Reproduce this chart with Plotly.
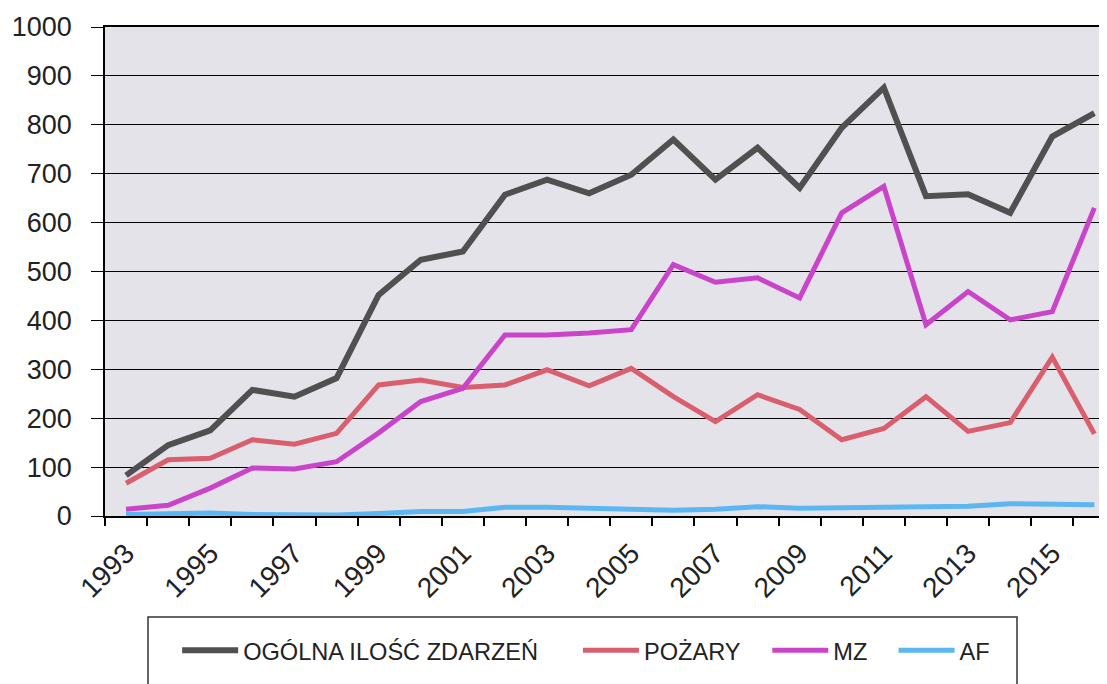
import plotly.graph_objects as go

years = list(range(1993, 2017))
ogolna = [83, 145, 175, 258, 244, 282, 452, 524, 541, 657, 688, 660, 698, 770, 688, 753, 671, 794, 876, 654, 658, 620, 776, 824]
pozary = [67, 115, 118, 156, 147, 169, 268, 278, 263, 268, 299, 266, 302, 244, 193, 248, 218, 156, 179, 244, 173, 191, 325, 168]
mz = [14, 22, 57, 98, 96, 111, 170, 234, 261, 370, 370, 374, 381, 514, 478, 487, 446, 620, 674, 391, 459, 401, 418, 630]
af = [3, 5, 6, 3, 2, 2, 5, 9, 9, 18, 18, 16, 14, 12, 14, 19, 16, 17, 17, 17, 20, 25, 25, 23]
series_names = ["OGÓLNA ILOŚĆ ZDARZEŃ", "POŻARY", "MZ", "AF"]
x_tick_years = list(range(1993, 2016, 2))
x_tick_labels = [str(y) for y in x_tick_years]
y_tick_values = list(range(0, 1001, 100))

colors = ["#505050", "#d95f6e", "#c944c9", "#5cb6f2"]
widths = [6, 5, 5, 5]
legend_ids = ["legend", "legend2", "legend3", "legend4"]
legend_x = [0.072, 0.472, 0.661, 0.787]

FONT = "Liberation Sans, Arial, sans-serif"

fig = go.Figure()
for name, vals, col, w, lg in zip(series_names, [ogolna, pozary, mz, af], colors, widths, legend_ids):
    fig.add_trace(go.Scatter(x=years, y=vals, mode="lines", name=name,
                             line=dict(color=col, width=w), legend=lg))

leg_common = dict(orientation="h", yanchor="middle", xanchor="left", y=-0.275,
                  bgcolor="rgba(0,0,0,0)", borderwidth=0,
                  font=dict(family=FONT, size=23.6, color="#222222"), itemwidth=56)
layout_legends = {}
for lg, lx in zip(legend_ids, legend_x):
    layout_legends[lg] = dict(leg_common, x=lx)

# page body has an 8px default margin, so the figure is 8px smaller and shifted
fig.update_layout(
    width=1099, height=676,
    margin=dict(l=97, r=0, t=19, b=168, autoexpand=False),
    paper_bgcolor="white",
    plot_bgcolor="#e4e3ea",
    showlegend=True,
    font=dict(family=FONT, color="#222222"),
    xaxis=dict(
        range=[1992.5, 2016.3], automargin=False,
        tickmode="array", tickvals=x_tick_years, ticktext=x_tick_labels,
        ticks="", tickangle=-45, ticklabelstandoff=8,
        tickfont=dict(size=28, family=FONT, color="#222222"),
        showgrid=False, zeroline=False,
        showline=True, linecolor="black", linewidth=1.5, mirror=True,
        minor=dict(ticks="outside", tick0=1992.5, dtick=1, ticklen=8,
                   tickcolor="black", tickwidth=1.5, showgrid=False),
    ),
    yaxis=dict(
        range=[0, 1000], automargin=False,
        tickmode="array", tickvals=y_tick_values,
        ticks="outside", ticklen=12, tickcolor="black", tickwidth=1.3,
        ticklabelstandoff=14,
        tickfont=dict(size=27, family=FONT, color="#222222"),
        showgrid=True, gridcolor="black", gridwidth=1.3,
        zeroline=False, showline=True, linecolor="black", linewidth=1.5,
    ),
    shapes=[dict(type="rect", xref="paper", yref="paper",
                 x0=(148 - 105) / 1002, x1=(1017 - 105) / 1002,
                 y0=(516 - 720) / 488.5, y1=(516 - 617) / 488.5,
                 line=dict(color="#333333", width=1.5), fillcolor="rgba(0,0,0,0)",
                 layer="below")],
    **layout_legends,
)

fig.write_html("out.html")
